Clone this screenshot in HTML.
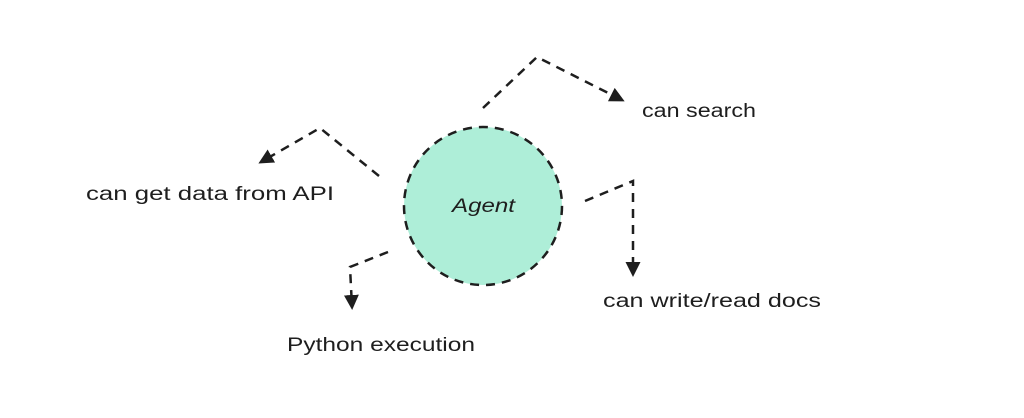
<!DOCTYPE html>
<html><head><style>
html,body{margin:0;padding:0;background:#fff;}
svg{display:block}
text{font-family:"Liberation Sans",sans-serif;font-size:19px;fill:#1e1e1e}
</style></head><body>
<svg width="1024" height="418" viewBox="0 0 1024 418">
<defs><marker id="a" viewBox="0 0 10 10" refX="8" refY="5" markerWidth="6" markerHeight="6" orient="auto"><path d="M0,0 L10,5 L0,10 z" fill="#1e1e1e"/></marker></defs>
<circle cx="483" cy="206" r="79" fill="#aeeed8" stroke="#1e1e1e" stroke-width="2.5" stroke-dasharray="9 7"/>
<text x="452" y="212" textLength="63" lengthAdjust="spacingAndGlyphs" font-style="italic">Agent</text>
<g fill="none" stroke="#1e1e1e" stroke-width="2.5" stroke-dasharray="9 7" marker-end="url(#a)">
<polyline points="483,108 537,57 622,100"/>
<polyline points="379,176 320,128 261,162"/>
<polyline points="585,201 633,181 633,274"/>
<polyline points="388,252 350,267 352,307"/>
</g>
<text x="642" y="117" textLength="114" lengthAdjust="spacingAndGlyphs">can search</text>
<text x="86" y="200" textLength="248" lengthAdjust="spacingAndGlyphs">can get data from API</text>
<text x="603" y="307" textLength="218" lengthAdjust="spacingAndGlyphs">can write/read docs</text>
<text x="287" y="351" textLength="188" lengthAdjust="spacingAndGlyphs">Python execution</text>
</svg>
</body></html>
